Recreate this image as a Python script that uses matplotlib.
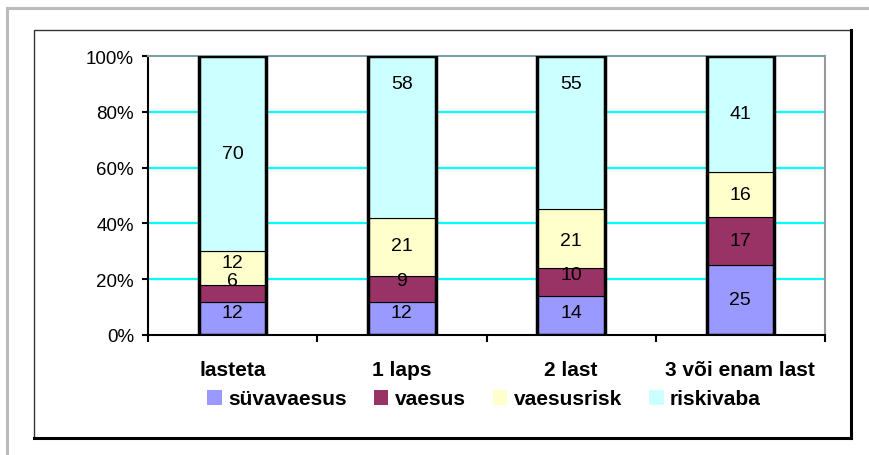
import numpy as np
import matplotlib.pyplot as plt
from matplotlib.patches import Patch, Rectangle
from matplotlib.lines import Line2D

plt.rcParams['font.family'] = ['Liberation Sans', 'DejaVu Sans']

# Data
categories = ['lasteta', '1 laps', '2 last', '3 või enam last']
series = ['süvavaesus', 'vaesus', 'vaesusrisk', 'riskivaba']
suvavaesus = [12, 12, 14, 25]
vaesus = [6, 9, 10, 17]
vaesusrisk = [12, 21, 21, 16]
riskivaba = [70, 58, 55, 41]

colors = ['#9999FF', '#993366', '#FFFFCC', '#CCFFFF']

# label nudges (percent points) to mimic Excel's label placement
label_shift = np.array([
    [1.9, 4.5, 2.1, 0.0],
    [2.2, 2.9, 0.4, 19.0],
    [0.9, 2.8, -0.8, 17.5],
    [0.0, 0.0, 0.0, 0.0],
])

W, H = 869, 456
fig = plt.figure(figsize=(W / 100, H / 100), dpi=100)


def fx(px):
    return px / W


def fy(py):
    return 1 - py / H


# outer gray frame (only top and left are visible) and inner black box
fig.lines.append(Line2D([fx(7), fx(7)], [0, fy(9)], transform=fig.transFigure,
                        color='#BBBBBB', lw=2.2))
fig.lines.append(Line2D([fx(7), 1], [fy(9), fy(9)], transform=fig.transFigure,
                        color='#BBBBBB', lw=2.2))
fig.patches.append(Rectangle((fx(34), fy(439)), fx(851) - fx(34), fy(31) - fy(439),
                             transform=fig.transFigure, fill=False,
                             edgecolor='#333333', lw=1))
fig.lines.append(Line2D([fx(851), fx(851)], [fy(439), fy(31)],
                        transform=fig.transFigure, color='black', lw=2.2))
fig.lines.append(Line2D([fx(34), fx(851)], [fy(439), fy(439)],
                        transform=fig.transFigure, color='black', lw=2.2))

ax = fig.add_axes([fx(148), fy(336), fx(825) - fx(148), fy(57) - fy(336)])

data = np.array([suvavaesus, vaesus, vaesusrisk, riskivaba], dtype=float)
totals = data.sum(axis=0)
pct = data / totals * 100

x = np.arange(len(categories))
width = 0.4
bottom = np.zeros(len(categories))
for i, name in enumerate(series):
    ax.bar(x, pct[i], width, bottom=bottom, color=colors[i],
           edgecolor='black', linewidth=0.8, label=name, zorder=3)
    for j in range(len(categories)):
        yc = bottom[j] + pct[i][j] / 2 + label_shift[j][i]
        ax.text(x[j], yc, f'{int(data[i][j])}', ha='center', va='center',
                fontsize=14, zorder=5)
    bottom += pct[i]

# thick outline around each whole bar
ax.bar(x, bottom, width, fill=False, edgecolor='black', linewidth=2.5, zorder=4)

ax.set_xlim(-0.5, 3.5)
ax.set_ylim(0, 100)
ax.set_yticks([0, 20, 40, 60, 80, 100])
ax.set_yticklabels([f'{v}%' for v in [0, 20, 40, 60, 80, 100]], fontsize=13.5)
for v in [20, 40, 60, 80]:
    ax.axhline(v, color='#00FFFF', lw=1.6, zorder=1)

ax.set_xticks(x)
ax.set_xticklabels(categories, fontsize=15, fontweight='bold')
ax.set_xticks(np.arange(-0.5, 4, 1), minor=True)
ax.tick_params(axis='x', which='major', length=0, pad=18)
ax.tick_params(axis='x', which='minor', length=5, width=1.5, direction='out')
ax.tick_params(axis='y', length=4, width=1.5, direction='out', pad=6)

ax.spines['left'].set_linewidth(1.5)
ax.spines['bottom'].set_linewidth(1.5)
ax.spines['top'].set_color('#80A0A0')
ax.spines['right'].set_color('#999999')
ax.spines['top'].set_linewidth(1.5)
ax.spines['right'].set_linewidth(1.5)

handles = [Patch(facecolor=c, edgecolor='none') for c in colors]
fig.legend(handles, series, loc='center', bbox_to_anchor=(fx(484), fy(400)),
           ncol=4, frameon=False, prop={'size': 15, 'weight': 'bold'},
           handlelength=0.7, handleheight=0.7, handletextpad=0.3,
           columnspacing=1.3)

fig.savefig('out.png', dpi=100)
